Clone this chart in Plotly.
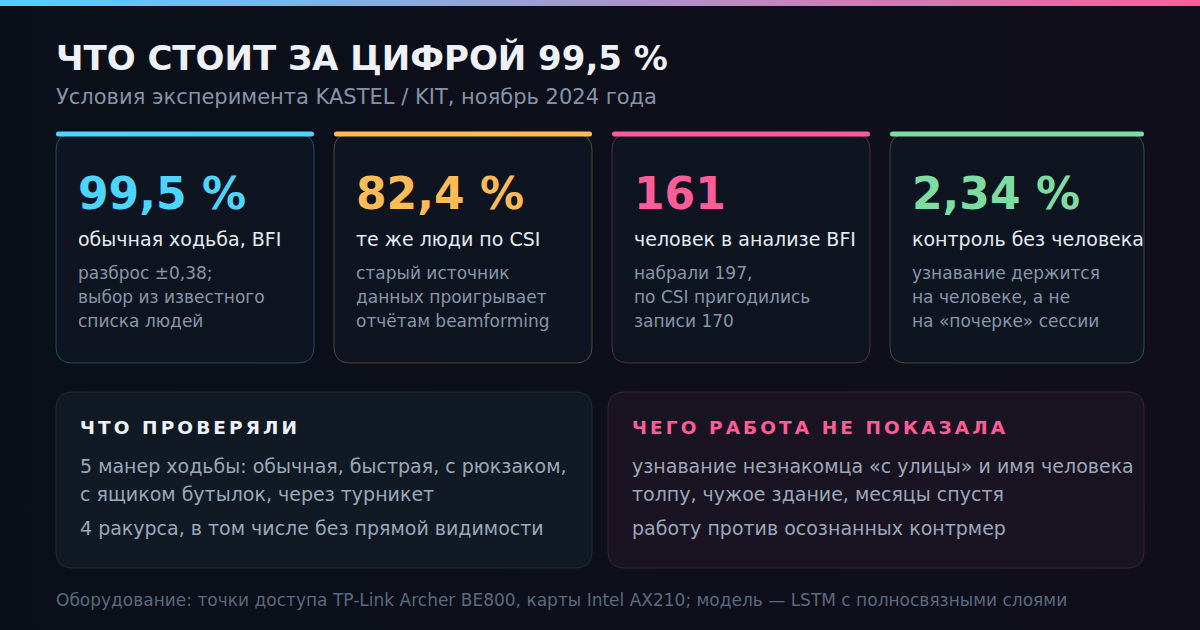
import plotly.graph_objects as go

W, H = 1200, 630
FONT = "DejaVu Sans"

# header
title = "ЧТО СТОИТ ЗА ЦИФРОЙ 99,5 %"
subtitle = "Условия эксперимента KASTEL / KIT, ноябрь 2024 года"

# the four stat cards
stat_values = ["99,5 %", "82,4 %", "161", "2,34 %"]
stat_labels = ["обычная ходьба, BFI", "те же люди по CSI", "человек в анализе BFI", "контроль без человека"]
stat_notes = [
    ["разброс ±0,38;", "выбор из известного", "списка людей"],
    ["старый источник", "данных проигрывает", "отчётам beamforming"],
    ["набрали 197,", "по CSI пригодились", "записи 170"],
    ["узнавание держится", "на человеке, а не", "на «почерке» сессии"],
]
stat_colors = ["#4dd4ff", "#ffbb55", "#ff5c9a", "#7ddc9f"]
stat_borders = ["rgba(77,212,255,0.3)", "rgba(255,187,85,0.3)",
                "rgba(255,92,154,0.3)", "rgba(125,220,159,0.3)"]

# the two lower panels
checked_title = "ЧТО ПРОВЕРЯЛИ"
checked_items = [
    ["5 манер ходьбы: обычная, быстрая, с рюкзаком,", "с ящиком бутылок, через турникет"],
    ["4 ракурса, в том числе без прямой видимости"],
]
missing_title = "ЧЕГО РАБОТА НЕ ПОКАЗАЛА"
missing_items = [
    ["узнавание незнакомца «с улицы» и имя человека", "толпу, чужое здание, месяцы спустя"],
    ["работу против осознанных контрмер"],
]

footer = "Оборудование: точки доступа TP-Link Archer BE800, карты Intel AX210; модель — LSTM с полносвязными слоями"


def rrect(x0, y0, x1, y1, r):
    # rounded rectangle as an svg path (plotly paths have no arcs, so Q it is)
    return (f"M{x0 + r},{y0} L{x1 - r},{y0} Q{x1},{y0} {x1},{y0 + r} "
            f"L{x1},{y1 - r} Q{x1},{y1} {x1 - r},{y1} L{x0 + r},{y1} "
            f"Q{x0},{y1} {x0},{y1 - r} L{x0},{y0 + r} Q{x0},{y0} {x0 + r},{y0} Z")


def spaced(s):
    # fake letter-spacing with six-per-em spaces
    return "\u2006".join(s)


shapes = []
annotations = []


def text(x, y, s, size, color, bold=False):
    annotations.append(dict(
        x=x, y=y, xref="x", yref="y", showarrow=False,
        xanchor="left", yanchor="middle",
        text=f"<b>{s}</b>" if bold else s,
        font=dict(family=FONT, size=size, color=color),
    ))


fig = go.Figure()

# page background, dark blue to dark violet
fig.add_trace(go.Scatter(
    x=[0, W, W, 0, 0], y=[0, 0, H, H, 0], mode="none", fill="toself",
    fillgradient=dict(type="horizontal", colorscale=[[0, "#0a1019"], [1, "#110e1c"]]),
    hoverinfo="skip"))

# gradient strip along the top edge
fig.add_trace(go.Scatter(
    x=[0, W, W, 0, 0], y=[0, 0, 6, 6, 0], mode="none", fill="toself",
    fillgradient=dict(type="horizontal", colorscale=[[0, "#4dd4ff"], [1, "#ff5c9a"]]),
    hoverinfo="skip"))

text(54, 58, title, 34, "#eef2f8", bold=True)
text(54, 97, subtitle, 21, "#8794a8")

# stat cards
card_left = [56, 334, 612, 890]
card_right = [314, 592, 870, 1144]
for i in range(4):
    x0, x1 = card_left[i], card_right[i]
    shapes.append(dict(type="path", path=rrect(x0, 134, x1, 363, 16),
                       fillcolor="#0f1520", line=dict(color=stat_borders[i], width=1)))
    shapes.append(dict(type="path", path=rrect(x0, 131.5, x1, 136.5, 2.5),
                       fillcolor=stat_colors[i], line=dict(width=0)))
    text(x0 + 20, 193, stat_values[i], 44, stat_colors[i], bold=True)
    text(x0 + 20, 239, stat_labels[i], 19, "#e6ebf2")
    for j, line in enumerate(stat_notes[i]):
        text(x0 + 20, 273 + j * 24, line, 17, "#8796aa")

# lower panels
panels = [
    (56, 592, "#111a24", "#1e2a37", checked_title, "#eef2f8", checked_items),
    (608, 1144, "#1a1321", "#3a1f37", missing_title, "#ff5c9a", missing_items),
]
for x0, x1, fill, border, head, head_col, items in panels:
    shapes.append(dict(type="path", path=rrect(x0, 392, x1, 568, 16),
                       fillcolor=fill, line=dict(color=border, width=1)))
    text(x0 + 22, 427, spaced(head), 18.5, head_col, bold=True)
    y = 466
    for item in items:
        for line in item:
            text(x0 + 22, y, line, 19, "#9aa8ba")
            y += 28
        y += 6

text(54, 600, footer, 17, "#5b6a7e")

fig.update_layout(
    width=W, height=H,
    margin=dict(l=0, r=0, t=0, b=0),
    paper_bgcolor="#0b1019", plot_bgcolor="#0b1019",
    showlegend=False,
    shapes=shapes, annotations=annotations,
    xaxis=dict(range=[0, W], visible=False, fixedrange=True),
    yaxis=dict(range=[H, 0], visible=False, fixedrange=True),
)

# drop the default page margin so the figure sits at the window's corner
fig.write_html("out.html", config={"displayModeBar": False},
               post_script="document.body.style.margin='0';document.body.style.background='#0b1019';")
